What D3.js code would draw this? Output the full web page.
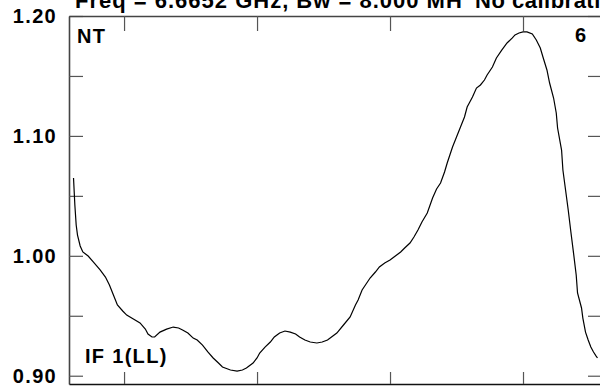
<!DOCTYPE html>
<html><head><meta charset="utf-8">
<script src="https://cdn.jsdelivr.net/npm/d3@7"></script>
<style>
html,body{margin:0;padding:0;background:#fff;}
svg{display:block;}
text{font-family:"Liberation Sans",Arial,sans-serif;font-weight:bold;font-size:20px;fill:#000;letter-spacing:1.3px;}
text.title{font-size:22px;letter-spacing:1px;}
text.title2{font-size:22px;letter-spacing:0.5px;}
</style></head>
<body><svg id="c" width="600" height="388"></svg>
<script>
// channel number (x) and normalised amplitude (y)
const channels = [12,13,14,15,17,19,23,27,32,36,39,42,45,49,52,57,62,66,68,71,73,77,82,87,91,94,98,102,105,109,113,117,121,124,130,135,139,142,147,150,152,156,160,163,167,171,175,179,182,186,190,195,199,203,206,210,215,220,224,226,229,232,235,239,242,246,250,254,258,261,265,268,271,274,278,282,285,288,291,293,295,297,300,303,306,308,310,312,315,318,321,323,327,330,334,338,342,344,347,350,353,357,360,363,365,368,370,373,375,376,379,380,382,384,386,388,390,391,394,395,397,399,401,403,405,406];
const amplitude = [1.0649,1.0424,1.0257,1.0173,1.0082,1.0032,0.9998,0.9948,0.9882,0.9823,0.9756,0.9673,0.9590,0.9540,0.9506,0.9473,0.9440,0.9389,0.9348,0.9323,0.9323,0.9364,0.9389,0.9406,0.9398,0.9381,0.9356,0.9314,0.9298,0.9256,0.9198,0.9148,0.9106,0.9073,0.9048,0.9039,0.9048,0.9064,0.9106,0.9148,0.9189,0.9239,0.9281,0.9323,0.9356,0.9373,0.9364,0.9348,0.9323,0.9298,0.9281,0.9273,0.9281,0.9298,0.9323,0.9356,0.9423,0.9490,0.9590,0.9631,0.9715,0.9765,0.9815,0.9865,0.9907,0.9940,0.9965,0.9998,1.0032,1.0065,1.0107,1.0157,1.0215,1.0282,1.0357,1.0482,1.0557,1.0607,1.0699,1.0774,1.0841,1.0907,1.0991,1.1074,1.1158,1.1241,1.1283,1.1324,1.1399,1.1425,1.1466,1.1508,1.1575,1.1650,1.1716,1.1775,1.1817,1.1842,1.1858,1.1867,1.1867,1.1850,1.1800,1.1733,1.1658,1.1550,1.1441,1.1316,1.1191,1.1066,1.0882,1.0716,1.0549,1.0382,1.0199,1.0023,0.9840,0.9690,0.9565,0.9481,0.9364,0.9298,0.9239,0.9198,0.9164,0.9148];
const yTicks = [0.90,0.95,1.00,1.05,1.10,1.15,1.20];
const yLabels = ["0.90","","1.00","","1.10","","1.20"];
const xTicks = [50,150,250,350];
const titleLeft = "Freq = 6.6652 GHz, Bw = 8.000 MH";
const titleRight = "No calibration";
const cornerLabels = {tl:"NT", tr:"6", bl:"IF 1(LL)"};

const svg = d3.select("#c");
const L=69, R=602, T=16, B=384;
const x = d3.scaleLinear().domain([8.6,409.4]).range([L,R]);
const y = d3.scaleLinear().domain([0.8931,1.2]).range([B,T]);

const fmt = d => { const i = yTicks.indexOf(d); return i>=0 ? yLabels[i] : ""; };

function styleAxis(g, col){
  g.selectAll(".tick line").attr("stroke","#555").attr("stroke-width",1.2);
  g.select(".domain").attr("stroke",col).attr("stroke-width",1.6);
  g.selectAll("text").style("font-size","20px").style("font-family","'Liberation Sans',Arial,sans-serif").style("font-weight","bold").attr("fill","#000");
}

svg.append("g").attr("transform",`translate(${L},0)`)
  .call(d3.axisLeft(y).tickValues(yTicks).tickFormat(fmt).tickSizeInner(-14).tickSizeOuter(0).tickPadding(12))
  .call(g=>styleAxis(g,"#444"));
svg.append("g").attr("transform",`translate(${R},0)`)
  .call(d3.axisRight(y).tickValues(yTicks).tickFormat("").tickSizeInner(-14).tickSizeOuter(0))
  .call(g=>styleAxis(g,"#444"));
svg.append("g").attr("transform",`translate(0,${T})`)
  .call(d3.axisTop(x).tickValues(xTicks).tickFormat("").tickSizeInner(-15).tickSizeOuter(0))
  .call(g=>styleAxis(g,"#444"));
svg.append("g").attr("transform",`translate(0,${B})`)
  .call(d3.axisBottom(x).tickValues(xTicks).tickFormat("").tickSizeInner(-12).tickSizeOuter(0))
  .call(g=>styleAxis(g,"#111"));

const pts = channels.map((c,i)=>[c,amplitude[i]]);
svg.append("path").datum(pts)
  .attr("fill","none").attr("stroke","#000").attr("stroke-width",1.2)
  .attr("d", d3.line().x(d=>x(d[0])).y(d=>y(d[1])));

svg.append("text").attr("class","title").attr("x",75).attr("y",8).text(titleLeft);
svg.append("text").attr("class","title2").attr("x",475).attr("y",8).text(titleRight);
svg.append("text").attr("x",77).attr("y",43).text(cornerLabels.tl);
svg.append("text").attr("x",575).attr("y",42).text(cornerLabels.tr);
svg.append("text").attr("x",85).attr("y",363).text(cornerLabels.bl);
</script></body></html>
